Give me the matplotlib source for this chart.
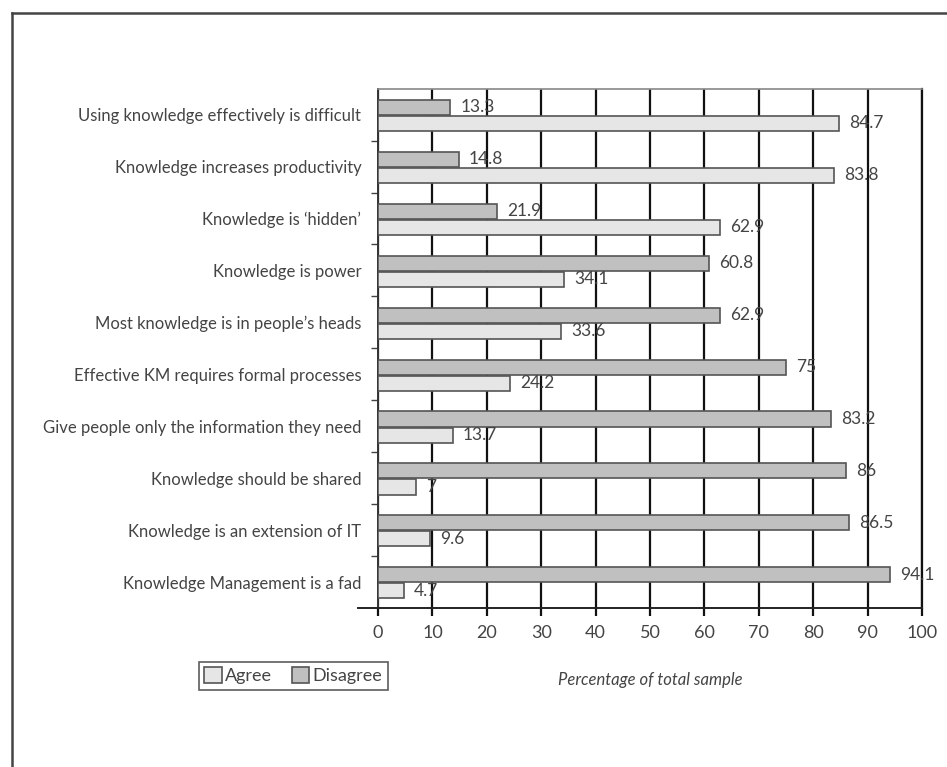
import matplotlib
matplotlib.use("Agg")
import matplotlib.pyplot as plt
from matplotlib.lines import Line2D
import numpy as np

plt.rcParams['font.family'] = ['Lato', 'DejaVu Sans']

# Survey statements, top to bottom
statements = [
    "Using knowledge effectively is difficult",
    "Knowledge increases productivity",
    "Knowledge is \u2018hidden\u2019",
    "Knowledge is power",
    "Most knowledge is in people\u2019s heads",
    "Effective KM requires formal processes",
    "Give people only the information they need",
    "Knowledge should be shared",
    "Knowledge is an extension of IT",
    "Knowledge Management is a fad",
]
agree = [84.7, 83.8, 62.9, 34.1, 33.6, 24.2, 13.7, 7, 9.6, 4.7]
disagree = [13.3, 14.8, 21.9, 60.8, 62.9, 75, 83.2, 86, 86.5, 94.1]
x_ticks = [0, 10, 20, 30, 40, 50, 60, 70, 80, 90, 100]

text_col = '#444444'
agree_col = '#e6e6e6'
disagree_col = '#c0c0c0'
edge_col = '#555555'

fig = plt.figure(figsize=(9.47, 7.67), dpi=100)
ax = fig.add_axes([378 / 947, 1 - 608 / 767, 544 / 947, (608 - 88.7) / 767])

y = np.arange(len(statements))
h = 0.29
ax.barh(y - 0.14, disagree, height=h, color=disagree_col, edgecolor=edge_col,
        linewidth=1.2, label='Disagree', zorder=3)
ax.barh(y + 0.17, agree, height=h, color=agree_col, edgecolor=edge_col,
        linewidth=1.2, label='Agree', zorder=3)

# value labels at the bar ends
for yi, d, a in zip(y, disagree, agree):
    ax.text(d + 1.9, yi - 0.14, f"{d:g}", va='center', ha='left',
            fontsize=12.5, color=text_col, zorder=4)
    ax.text(a + 1.9, yi + 0.17, f"{a:g}", va='center', ha='left',
            fontsize=12.5, color=text_col, zorder=4)

ax.set_xlim(0, 100)
ax.set_ylim(len(statements) - 0.5, -0.5)
ax.set_xticks(x_ticks)
ax.set_xticklabels([str(t) for t in x_ticks], fontsize=13, color=text_col)
ax.set_yticks(y)
ax.set_yticklabels(statements, fontsize=12, color=text_col)
ax.set_yticks(np.arange(0.5, len(statements) - 0.5, 1), minor=True)

ax.tick_params(axis='y', which='major', length=0, pad=12)
ax.tick_params(axis='y', which='minor', length=5, width=1, color='#444444',
               direction='out')
ax.tick_params(axis='x', which='major', length=6, width=1.6, color='#111111',
               direction='out', pad=6)

ax.xaxis.grid(True, color='#111111', linewidth=1.6, zorder=0)
ax.set_axisbelow(True)

ax.spines['top'].set_color('#888888')
ax.spines['top'].set_linewidth(1.2)
ax.spines['right'].set_color('#111111')
ax.spines['right'].set_linewidth(1.6)
ax.spines['left'].set_color('#333333')
ax.spines['left'].set_linewidth(1.4)
ax.spines['bottom'].set_color('#222222')
ax.spines['bottom'].set_linewidth(1.4)

# baseline runs a little past the zero line
ax.add_line(Line2D([-20 / 544, 0], [0, 0], transform=ax.transAxes,
                   color='#222222', linewidth=1.4, clip_on=False))

fig.text(650 / 947, 1 - 680 / 767, "Percentage of total sample", ha='center',
         va='center', fontsize=12, style='italic', color=text_col)

handles, labels = ax.get_legend_handles_labels()
leg = fig.legend(handles[::-1], labels[::-1], loc='upper left',
                 bbox_to_anchor=(199 / 947, 1 - 662 / 767), ncol=2,
                 fontsize=13, frameon=True, fancybox=False,
                 handlelength=0.95, handleheight=0.95, handletextpad=0.2,
                 columnspacing=1.1, borderpad=0.3, borderaxespad=0)
leg.get_frame().set_edgecolor('#333333')
leg.get_frame().set_linewidth(1.2)
for t in leg.get_texts():
    t.set_color(text_col)

# outer frame (left and top edges)
fig.add_artist(Line2D([12 / 947, 12 / 947], [0, 1 - 13 / 767],
                      transform=fig.transFigure, color='#444444', linewidth=1.8))
fig.add_artist(Line2D([12 / 947, 1], [1 - 13 / 767, 1 - 13 / 767],
                      transform=fig.transFigure, color='#444444', linewidth=1.8))

fig.savefig('out.png', dpi=100)
